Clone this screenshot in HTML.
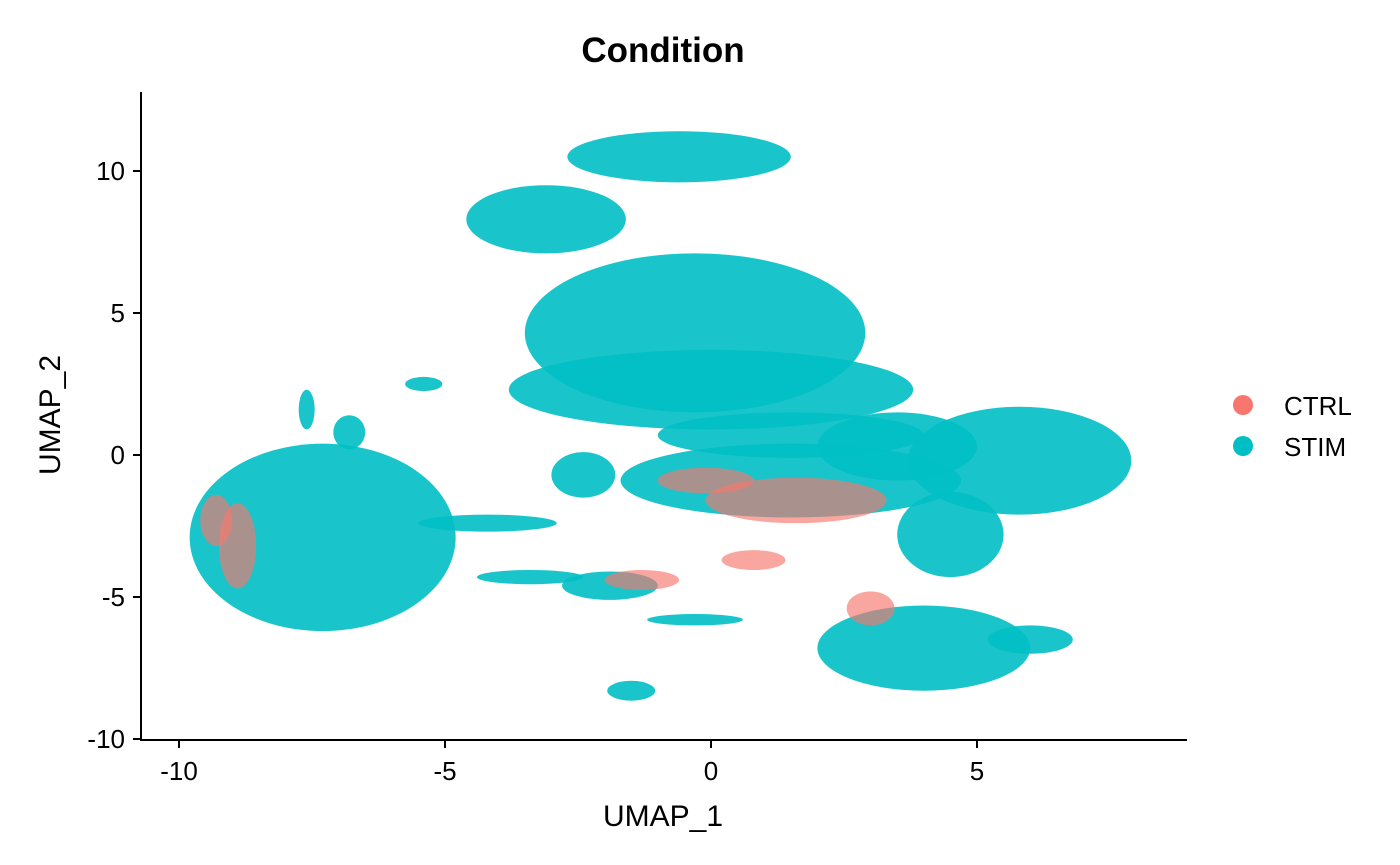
<!DOCTYPE html>
<html><head><meta charset="utf-8"><style>
body{margin:0;background:#fff;}
svg{display:block;font-family:"Liberation Sans",Arial,sans-serif;}
</style></head><body>
<svg id="chart" width="1400" height="865">
  <text x="663" y="62" text-anchor="middle" font-size="35" font-weight="bold">Condition</text>
  <g id="marks"></g>
  <line x1="141" y1="92" x2="141" y2="741" stroke="#000" stroke-width="2"/>
  <line x1="140" y1="740" x2="1187" y2="740" stroke="#000" stroke-width="2"/>
  <g id="ticks"></g>
  <text x="663" y="826" text-anchor="middle" font-size="30">UMAP_1</text>
  <text transform="translate(60,415) rotate(-90)" text-anchor="middle" font-size="30">UMAP_2</text>
  <g>
    <circle cx="1243" cy="405" r="10" fill="#F8766D"/>
    <text x="1284" y="415" font-size="26">CTRL</text>
    <circle cx="1243" cy="446" r="10" fill="#00BFC4"/>
    <text x="1284" y="456" font-size="26">STIM</text>
  </g>
</svg>
<script>
const xTicks=[-10,-5,0,5];
const yTicks=[-10,-5,0,5,10];
const clusterNames=["left","central-upper","central-lower","band","bridge","right","right-lower","bottomright","bottom-arm","top","topleft","small","strand-left","strand-low","strand-mid","band-arm","spot-a","spot-b","spot-c","strand-tail","gap-fill"];
const clusterX=[-7.3,-0.3,0.0,1.5,3.5,5.8,4.5,4.0,6.0,-0.6,-3.1,-1.5,-4.2,-3.4,-1.9,-2.4,-5.4,-6.8,-7.6,-0.3,1.5];
const clusterY=[-2.9,4.3,2.3,-0.9,0.3,-0.2,-2.8,-6.8,-6.5,10.5,8.3,-8.3,-2.4,-4.3,-4.6,-0.7,2.5,0.8,1.6,-5.8,0.7];
const clusterRX=[2.5,3.2,3.8,3.2,1.5,2.1,1.0,2.0,0.8,2.1,1.5,0.45,1.3,1.0,0.9,0.6,0.35,0.3,0.15,0.9,2.5];
const clusterRY=[3.3,2.8,1.4,1.3,1.2,1.9,1.5,1.5,0.5,0.9,1.2,0.35,0.3,0.25,0.5,0.8,0.25,0.6,0.7,0.2,0.8];
const ctrlPatchX=[1.6,0.8,-1.3,-8.9,-0.1,3.0,-9.3];
const ctrlPatchY=[-1.6,-3.7,-4.4,-3.2,-0.9,-5.4,-2.3];
const ctrlPatchRX=[1.7,0.6,0.7,0.35,0.9,0.45,0.3];
const ctrlPatchRY=[0.8,0.35,0.35,1.5,0.45,0.6,0.9];
const X=v=>711+v*53.2, Y=v=>455-v*28.4;
const NS="http://www.w3.org/2000/svg";
const marks=document.getElementById('marks');
clusterNames.forEach((n,i)=>{
  const e=document.createElementNS(NS,'ellipse');
  e.setAttribute('cx',X(clusterX[i]));e.setAttribute('cy',Y(clusterY[i]));
  e.setAttribute('rx',clusterRX[i]*53.2);e.setAttribute('ry',clusterRY[i]*28.4);
  e.setAttribute('fill','#00BFC4');e.setAttribute('opacity','0.9');
  
  
  marks.appendChild(e);
});
ctrlPatchX.forEach((v,i)=>{
  const e=document.createElementNS(NS,'ellipse');
  e.setAttribute('cx',X(v));e.setAttribute('cy',Y(ctrlPatchY[i]));
  e.setAttribute('rx',ctrlPatchRX[i]*53.2);e.setAttribute('ry',ctrlPatchRY[i]*28.4);
  e.setAttribute('fill','#F8766D');e.setAttribute('opacity','0.65');
  
  
  marks.appendChild(e);
});
const tg=document.getElementById('ticks');
xTicks.forEach(t=>{
  const l=document.createElementNS(NS,'line');
  l.setAttribute('x1',X(t));l.setAttribute('x2',X(t));l.setAttribute('y1',740);l.setAttribute('y2',748);l.setAttribute('stroke','#000');l.setAttribute('stroke-width','2');
  
  
  tg.appendChild(l);
  const s=document.createElementNS(NS,'text');
  s.setAttribute('x',X(t));s.setAttribute('y',780);s.setAttribute('text-anchor','middle');s.setAttribute('font-size','26');s.textContent=t;
  
  
  tg.appendChild(s);
});
yTicks.forEach(t=>{
  const l=document.createElementNS(NS,'line');
  l.setAttribute('x1',133);l.setAttribute('x2',141);l.setAttribute('y1',Y(t));l.setAttribute('y2',Y(t));l.setAttribute('stroke','#000');l.setAttribute('stroke-width','2');
  
  
  tg.appendChild(l);
  const s=document.createElementNS(NS,'text');
  s.setAttribute('x',125);s.setAttribute('y',Y(t)+9);s.setAttribute('text-anchor','end');s.setAttribute('font-size','26');s.textContent=t;
  
  
  tg.appendChild(s);
});
</script>
</body></html>
